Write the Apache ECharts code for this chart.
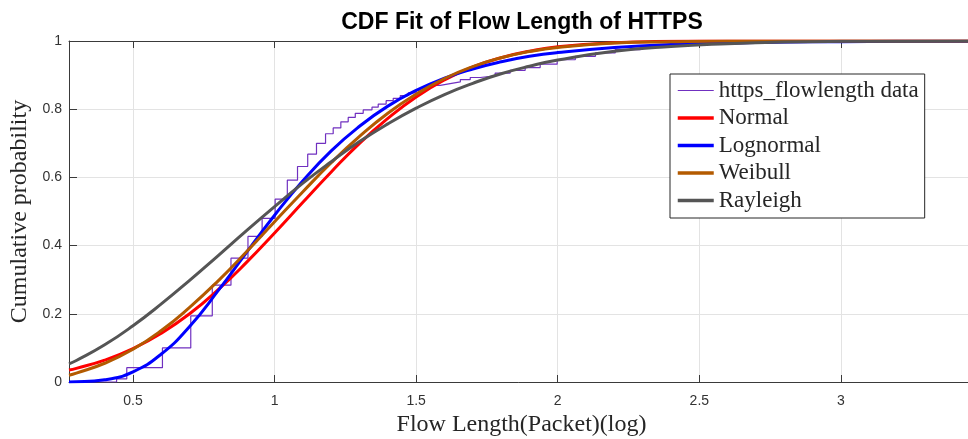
<!DOCTYPE html>
<html>
<head>
<meta charset="utf-8">
<script src="https://cdn.jsdelivr.net/npm/echarts@6/dist/echarts.min.js"></script>
<style>
  html, body { margin: 0; padding: 0; background: #fff; }
  #chart { width: 968px; height: 439px; }
</style>
</head>
<body>
<div id="chart"></div>
<script>
// ---- Data ----
const xGrid = [0.274, 0.3, 0.4, 0.5, 0.6, 0.7, 0.8, 0.9, 1.0, 1.1, 1.2, 1.3, 1.4, 1.5, 1.6, 1.7, 1.8, 1.9, 2.0,
               2.2, 2.4, 2.6, 2.8, 3.0, 3.2, 3.47];
const normalCdf = [0.035, 0.040, 0.064, 0.098, 0.143, 0.200, 0.270, 0.350, 0.437, 0.527, 0.616, 0.700, 0.773, 0.836, 0.886, 0.924, 0.951, 0.970, 0.983,
                   0.995, 0.999, 1.0, 1.0, 1.0, 1.0, 1.0];
const lognormalCdf = [0.0002, 0.0006, 0.0066, 0.030, 0.082, 0.163, 0.267, 0.379, 0.489, 0.590, 0.678, 0.750, 0.809, 0.855, 0.891, 0.918, 0.939, 0.955, 0.966,
                      0.981, 0.990, 0.994, 0.997, 0.998, 0.999, 0.9995];
const weibullCdf = [0.020, 0.026, 0.055, 0.096, 0.151, 0.219, 0.296, 0.381, 0.470, 0.558, 0.643, 0.720, 0.788, 0.844, 0.890, 0.925, 0.951, 0.969, 0.981,
                    0.994, 0.998, 1.0, 1.0, 1.0, 1.0, 1.0];
const rayleighCdf = [0.053, 0.063, 0.109, 0.165, 0.229, 0.298, 0.370, 0.443, 0.514, 0.583, 0.646, 0.705, 0.757, 0.803, 0.843, 0.876, 0.904, 0.926, 0.944,
                     0.970, 0.984, 0.992, 0.997, 0.999, 0.9995, 1.0];

const ecdfX = [0.274, 0.442, 0.478, 0.604, 0.704, 0.780, 0.846, 0.906, 0.956, 1.002, 1.045, 1.081, 1.117, 1.148, 1.180, 1.207,
               1.234, 1.260, 1.285, 1.313, 1.344, 1.366, 1.394, 1.419, 1.444, 1.472, 1.500, 1.528, 1.557, 1.585, 1.620, 1.656,
               1.691, 1.726, 1.779, 1.832, 1.885, 1.938, 1.998, 2.062, 2.133, 2.203, 2.292, 2.398, 2.539, 2.786, 3.210, 3.47];
const ecdfY = [0, 0.009, 0.042, 0.100, 0.194, 0.284, 0.363, 0.427, 0.480, 0.536, 0.592, 0.632, 0.668, 0.700, 0.728, 0.745,
               0.763, 0.776, 0.788, 0.798, 0.806, 0.815, 0.825, 0.832, 0.840, 0.848, 0.856, 0.864, 0.870, 0.875, 0.880, 0.887,
               0.893, 0.898, 0.906, 0.914, 0.922, 0.932, 0.945, 0.955, 0.965, 0.975, 0.983, 0.990, 0.995, 0.998, 1.0, 1.0];

const xTicks = [0.5, 1, 1.5, 2, 2.5, 3];
const seriesNames = ['https_flowlength data', 'Normal', 'Lognormal', 'Weibull', 'Rayleigh'];
const titleText = 'CDF Fit of Flow Length of HTTPS';
const xName = 'Flow Length(Packet)(log)';
const yName = 'Cumulative probability';

// ---- Chart ----
const pairs = (xs, ys) => xs.map((x, i) => [x, ys[i]]);
const chart = echarts.init(document.getElementById('chart'), null, { renderer: 'canvas' });

const axisColor = '#3a3a3a';
const gridColor = '#e3e3e3';
const X_MIN = 0.274, X_MAX = 3.47;

const fitLine = (name, ys, color) => ({
  name: name,
  type: 'line',
  data: pairs(xGrid, ys),
  showSymbol: false,
  symbol: 'none',
  smooth: true,
  lineStyle: { color: color, width: 3 },
  itemStyle: { color: color },
  silent: true
});

chart.setOption({
  animation: false,
  backgroundColor: '#ffffff',
  title: {
    text: titleText,
    left: 517,
    textAlign: 'center',
    top: 6,
    textStyle: { fontFamily: 'Liberation Sans, Arial, sans-serif', fontWeight: 'bold', fontSize: 23, color: '#000' }
  },
  legend: {
    orient: 'vertical',
    left: 670,
    top: 74,
    padding: [5, 6, 6, 6],
    itemGap: 4.5,
    itemWidth: 36,
    itemHeight: 14,
    selectedMode: false,
    backgroundColor: '#ffffff',
    borderColor: '#262626',
    borderWidth: 1,
    borderRadius: 0,
    itemStyle: { opacity: 0 },
    textStyle: { fontFamily: 'Liberation Serif, Times New Roman, serif', fontSize: 23, color: '#262626' },
    data: seriesNames.map((n, i) => ({ name: n, lineStyle: { width: i === 0 ? 1.2 : 3.5 } }))
  },
  grid: { left: 69, right: -6, top: 41, bottom: 57, containLabel: false, outerBoundsMode: 'none' },
  xAxis: [{
    type: 'value',
    min: X_MIN,
    max: X_MAX,
    name: xName,
    nameLocation: 'middle',
    nameGap: 31,
    nameTextStyle: { fontFamily: 'Liberation Serif, Times New Roman, serif', fontSize: 24, color: '#262626' },
    axisLine: { show: true, onZero: false, lineStyle: { color: axisColor, width: 1 } },
    axisTick: { show: true, inside: true, length: 7, customValues: xTicks, lineStyle: { color: axisColor } },
    axisLabel: { customValues: xTicks, margin: 12, fontFamily: 'Liberation Sans, Arial, sans-serif', fontSize: 14, color: '#333' },
    splitLine: { show: true, lineStyle: { color: gridColor, width: 1 } }
  }, {
    type: 'value',
    position: 'top',
    min: X_MIN,
    max: X_MAX,
    axisLine: { show: true, onZero: false, lineStyle: { color: axisColor, width: 1 } },
    axisTick: { show: true, inside: true, length: 7, customValues: xTicks, lineStyle: { color: axisColor } },
    axisLabel: { show: false },
    splitLine: { show: false }
  }],
  yAxis: {
    type: 'value',
    min: 0,
    max: 1,
    interval: 0.2,
    name: yName,
    nameLocation: 'middle',
    nameGap: 36,
    nameTextStyle: { fontFamily: 'Liberation Serif, Times New Roman, serif', fontSize: 24, color: '#262626' },
    axisLine: { show: true, onZero: false, lineStyle: { color: axisColor, width: 1 } },
    axisTick: { show: true, inside: true, length: 8, lineStyle: { color: axisColor } },
    axisLabel: { margin: 7, fontFamily: 'Liberation Sans, Arial, sans-serif', fontSize: 14, color: '#333' },
    splitLine: { show: true, lineStyle: { color: gridColor, width: 1 } }
  },
  series: [
    {
      name: seriesNames[0],
      type: 'line',
      data: pairs(ecdfX, ecdfY),
      step: 'end',
      showSymbol: false,
      symbol: 'none',
      lineStyle: { color: '#7030c0', width: 1.2 },
      itemStyle: { color: '#7030c0' },
      silent: true
    },
    fitLine(seriesNames[1], normalCdf, '#ff0000'),
    fitLine(seriesNames[2], lognormalCdf, '#0000ff'),
    fitLine(seriesNames[3], weibullCdf, '#b35a00'),
    fitLine(seriesNames[4], rayleighCdf, '#555555')
  ]
});
</script>
</body>
</html>
